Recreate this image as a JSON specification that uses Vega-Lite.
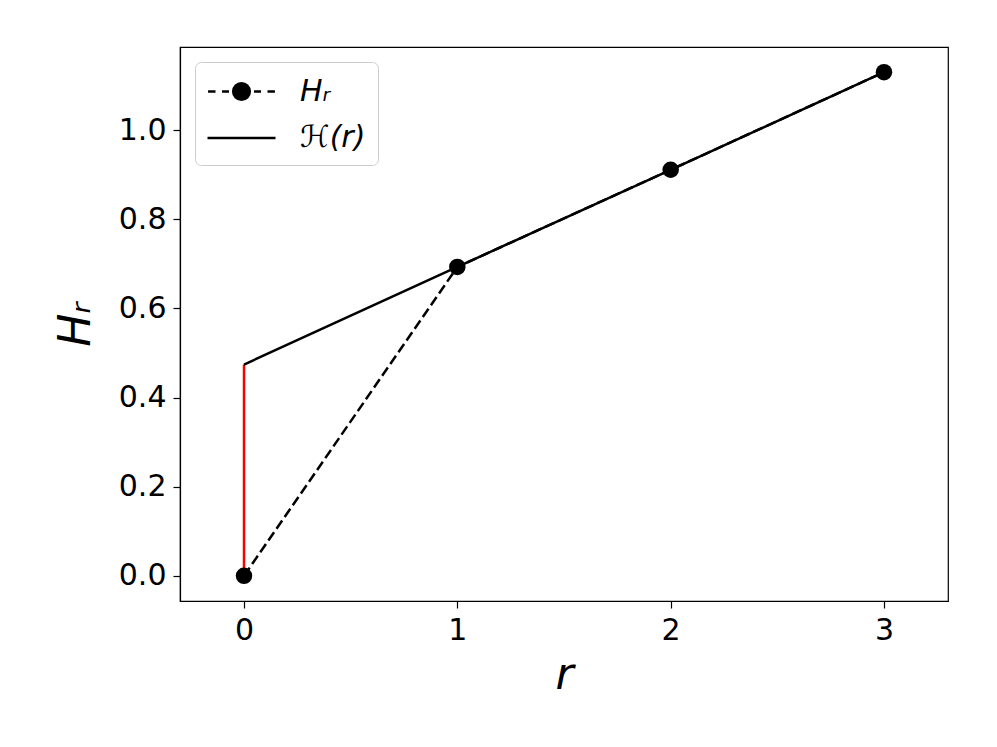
{
  "$schema": "https://vega.github.io/schema/vega-lite/v6.json",
  "autosize": "none",
  "width": 768,
  "height": 554,
  "padding": {"left": 180, "top": 47, "right": 49, "bottom": 146},
  "background": "white",
  "config": {
    "view": {"stroke": "black", "strokeWidth": 1.2},
    "font": "DejaVu Sans",
    "axis": {
      "grid": false,
      "domainColor": "black",
      "domainWidth": 1.2,
      "tickColor": "black",
      "tickWidth": 1.2,
      "tickSize": 7,
      "labelFont": "DejaVu Sans",
      "labelFontSize": 30,
      "labelColor": "black",
      "labelPadding": 7,
      "titleFont": "DejaVu Sans",
      "titleFontSize": 44,
      "titleFontStyle": "italic",
      "titleFontWeight": "normal",
      "titleColor": "black"
    }
  },
  "datasets": {
    "series": [
      {"series": "Hᵣ", "r": 0, "H": 0.0},
      {"series": "Hᵣ", "r": 1, "H": 0.693},
      {"series": "Hᵣ", "r": 2, "H": 0.911},
      {"series": "Hᵣ", "r": 3, "H": 1.13},
      {"series": "ℋ(r)", "r": 0, "H": 0.474},
      {"series": "ℋ(r)", "r": 1, "H": 0.693},
      {"series": "ℋ(r)", "r": 2, "H": 0.911},
      {"series": "ℋ(r)", "r": 3, "H": 1.13}
    ],
    "gap": [{"r": 0, "lo": 0.0, "hi": 0.474}]
  },
  "layer": [
    {
      "data": {"name": "gap"},
      "mark": {"type": "rule", "strokeWidth": 2.5},
      "encoding": {
        "x": {"field": "r", "type": "quantitative"},
        "y": {"field": "lo", "type": "quantitative"},
        "y2": {"field": "hi"},
        "color": {"value": "red"}
      }
    },
    {
      "data": {"name": "series"},
      "transform": [{"filter": "datum.series === 'Hᵣ'"}],
      "mark": {"type": "line", "strokeWidth": 2.5, "strokeDash": [10, 4.3]},
      "encoding": {
        "x": {"field": "r", "type": "quantitative"},
        "y": {"field": "H", "type": "quantitative"},
        "color": {"field": "series", "type": "nominal"}
      }
    },
    {
      "data": {"name": "series"},
      "transform": [{"filter": "datum.series === 'ℋ(r)'"}],
      "mark": {"type": "line", "strokeWidth": 2.5},
      "encoding": {
        "x": {"field": "r", "type": "quantitative"},
        "y": {"field": "H", "type": "quantitative"},
        "color": {"field": "series", "type": "nominal"}
      }
    },
    {
      "data": {"name": "series"},
      "transform": [{"filter": "datum.series === 'Hᵣ'"}],
      "mark": {"type": "point", "filled": true, "shape": "circle", "size": 272, "opacity": 1},
      "encoding": {
        "x": {"field": "r", "type": "quantitative"},
        "y": {"field": "H", "type": "quantitative"},
        "color": {"field": "series", "type": "nominal"}
      }
    }
  ],
  "encoding": {
    "x": {
      "field": "r",
      "type": "quantitative",
      "scale": {"domain": [-0.3, 3.3], "nice": false, "zero": false},
      "axis": {"values": [0, 1, 2, 3], "title": "r", "titlePadding": 8, "format": "d"}
    },
    "y": {
      "field": "H",
      "type": "quantitative",
      "scale": {"domain": [-0.0565, 1.1865], "nice": false, "zero": false},
      "axis": {"values": [0, 0.2, 0.4, 0.6, 0.8, 1.0], "format": ".1f", "title": "Hᵣ", "titlePadding": 20}
    },
    "color": {
      "field": "series",
      "type": "nominal",
      "scale": {"domain": ["Hᵣ", "ℋ(r)"], "range": ["black", "black"]},
      "legend": {
        "title": null,
        "orient": "top-left",
        "offset": 15,
        "padding": 12,
        "strokeColor": "#cccccc",
        "fillColor": "white",
        "cornerRadius": 6,
        "symbolSize": 1024,
        "symbolOffset": 17,
        "labelOffset": 41,
        "rowPadding": 13.5,
        "labelFont": "DejaVu Sans",
        "labelFontSize": 30,
        "labelFontStyle": "italic",
        "labelColor": "black",
        "encode": {
          "symbols": {
            "update": {
              "shape": {"signal": "datum.value === 'ℋ(r)' ? 'M-2.125,0H2.125' : 'M-2.09,0H-1.625M-1.22,0H-0.78M0.78,0H1.22M1.625,0H2.09M0.52,0A0.52,0.52,0,1,1,-0.52,0A0.52,0.52,0,1,1,0.52,0Z'"},
              "fill": {"value": "black"},
              "stroke": {"value": "black"},
              "strokeWidth": {"value": 2.5},
              "opacity": {"value": 1},
              "size": {"value": 1024}
            }
          }
        }
      }
    }
  }
}
